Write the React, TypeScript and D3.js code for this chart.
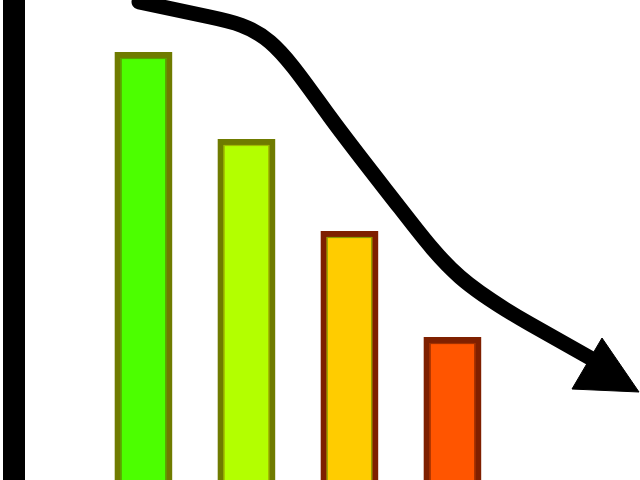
import React, { useEffect, useRef } from 'react';
import * as d3 from 'd3';

// bar chart data (declining trend)
const categories = ['A', 'B', 'C', 'D'];
const values = [8.9, 7.16, 5.32, 3.2];
const fills = ['#4cff00', '#b3ff00', '#ffcc00', '#ff5500'];
const strokes = ['#6f7b00', '#6f7b00', '#7f1f00', '#7f2000'];
const innerLines = ['#5aa000', '#a0b800', '#8a9a00', '#a03000'];

const W = 640;
const H = 480;

export default function App() {
  const ref = useRef<SVGSVGElement>(null);

  useEffect(() => {
    if (!ref.current) return;
    const svg = d3.select(ref.current);
    svg.selectAll('*').remove();

    const x = d3.scaleBand<string>()
      .domain(categories)
      .range([117.7, 478.2])
      .paddingInner(0.5)
      .paddingOuter(0);

    const y = d3.scaleLinear().domain([0, 10]).range([500, 0]);

    svg.append('rect').attr('width', W).attr('height', H).attr('fill', '#ffffff');

    // vertical axis bar
    svg.append('line')
      .attr('x1', 14).attr('x2', 14)
      .attr('y1', -5).attr('y2', H + 5)
      .attr('stroke', '#000')
      .attr('stroke-width', 22);

    const bars = svg.selectAll('g.bar')
      .data(values)
      .join('g')
      .attr('class', 'bar');

    bars.append('rect')
      .attr('x', (_, i) => x(categories[i])!)
      .attr('y', d => y(d))
      .attr('width', x.bandwidth())
      .attr('height', d => y(0) - y(d))
      .attr('fill', (_, i) => fills[i])
      .attr('stroke', (_, i) => strokes[i])
      .attr('stroke-width', 6);

    bars.append('rect')
      .attr('x', (_, i) => x(categories[i])! + 3.5)
      .attr('y', d => y(d) + 3.5)
      .attr('width', x.bandwidth() - 7)
      .attr('height', d => y(0) - y(d))
      .attr('fill', 'none')
      .attr('stroke', (_, i) => innerLines[i])
      .attr('stroke-width', 1.2);

    // trend arrow
    const shaft: [number, number][] = [
      [139, 2], [210, 17], [270, 42], [330, 117], [400, 208],
      [460, 277], [530, 324], [592, 359],
    ];
    const line = d3.line().curve(d3.curveNatural);
    svg.append('path')
      .attr('d', line(shaft))
      .attr('fill', 'none')
      .attr('stroke', '#000')
      .attr('stroke-width', 15)
      .attr('stroke-linecap', 'round');

    const head: [number, number][] = [[602, 338], [572, 389], [639, 392]];
    svg.append('path')
      .attr('d', d3.line()(head) + 'Z')
      .attr('fill', '#000')
      .attr('stroke', '#000')
      .attr('stroke-width', 1)
      .attr('stroke-linejoin', 'round');
  }, []);

  return (
    <div style={{ position: 'fixed', left: 0, top: 0, width: W, height: H }}>
      <svg ref={ref} width={W} height={H} style={{ display: 'block' }} />
    </div>
  );
}
